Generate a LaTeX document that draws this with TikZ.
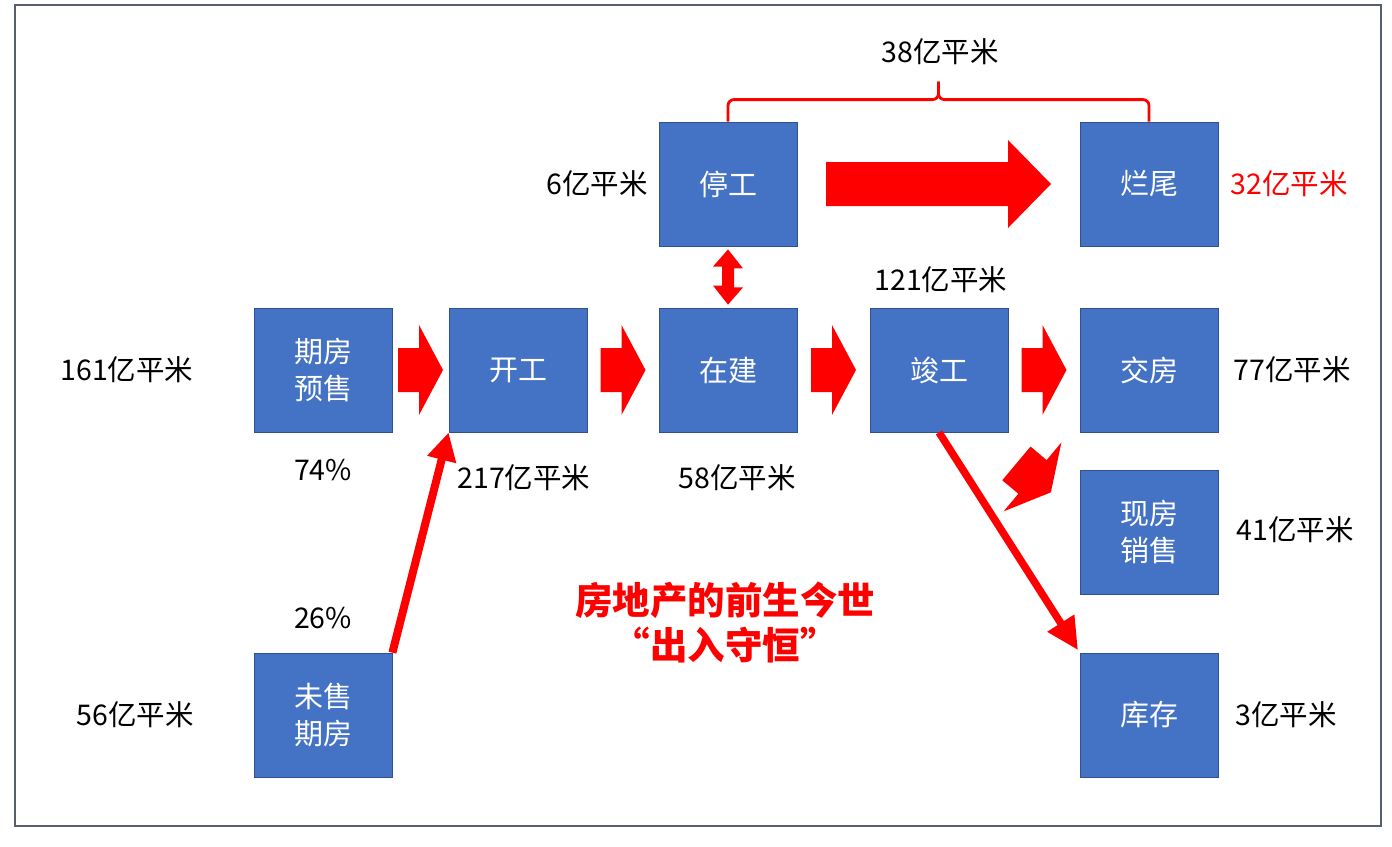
\documentclass[tikz,border=0pt]{standalone}
\usepackage{fontspec}
\setmainfont{Noto Sans CJK SC}
\usetikzlibrary{arrows.meta,calc}
\definecolor{boxfill}{HTML}{4472C4}
\definecolor{boxline}{HTML}{2F528F}
\definecolor{framecol}{HTML}{58606E}
\definecolor{arrred}{HTML}{FF0000}
\tikzset{
  box/.style={draw=boxline, line width=0.8pt, fill=boxfill, minimum width=138pt, minimum height=124pt,
    inner sep=0pt, text=white, align=center, font=\fontsize{29}{37}\selectfont},
  lbl/.style={inner sep=0pt, text=black, font=\fontsize{28.5}{32}\selectfont},
  thinarrow/.style={draw=arrred, line width=7.5pt, -{Triangle[length=32pt,width=30pt]}},
  redfill/.style={fill=arrred},
  bracestyle/.style={draw=arrred, line width=2.8pt, rounded corners=6pt},
}
\begin{document}
\begin{tikzpicture}[x=1pt,y=-1pt]
\useasboundingbox (0,0) rectangle (1392,846);
\draw[framecol, line width=1.6pt] (15,5) rectangle (1381,826);
% boxes
\node[box] (qf) at (323,370) {期房\\预售};
\node[box] (kg) at (518,370) {开工};
\node[box] (zj) at (728,370) {在建};
\node[box] (jg) at (939,370) {竣工};
\node[box] (jf) at (1149,370) {交房};
\node[box] (tg) at (728,184) {停工};
\node[box] (lw) at (1149,184) {烂尾};
\node[box] (xf) at (1149,532) {现房\\销售};
\node[box] (kc) at (1149,715) {库存};
\node[box] (ws) at (323,715) {未售\\期房};
% labels
\node[lbl] (l161) at (127,370) {161亿平米};
\node[lbl] (l74) at (323,470) {74\%};
\node[lbl] (l217) at (524,478) {217亿平米};
\node[lbl] (l58) at (737,478) {58亿平米};
\node[lbl] (l121) at (941,280) {121亿平米};
\node[lbl] (l6) at (597,184) {6亿平米};
\node[lbl, text=arrred] (l32) at (1289,184) {32亿平米};
\node[lbl] (l77) at (1292,370) {77亿平米};
\node[lbl] (l41) at (1295,530) {41亿平米};
\node[lbl] (l3) at (1286,715) {3亿平米};
\node[lbl] (l26) at (323,618) {26\%};
\node[lbl] (l56) at (135,715) {56亿平米};
\node[lbl] (l38) at (940,52) {38亿平米};
\node[inner sep=0pt, text=arrred, align=center, font=\bfseries\fontsize{37.5}{45}\selectfont] (title) at (725,622) {房地产的前生今世\\“出入守恒”};
% row block arrows
\foreach \a/\b in {qf/kg, kg/zj, zj/jg, jg/jf}{
  \fill[redfill] ($(\a.east)!0.5!(\b.west)$) ++(-22.5,-22) -- ++(21,0) -- ++(0,-23) -- ++(24,45)
    -- ++(-24,45) -- ++(0,-23) -- ++(-21,0) -- cycle;
}
% big arrow
\fill[redfill] ($(tg.east)!0.5!(lw.west)$) ++(-112.5,-22) -- ++(182,0) -- ++(0,-22) -- ++(43,44)
  -- ++(-43,44) -- ++(0,-22) -- ++(-182,0) -- cycle;
% double arrow
\fill[redfill] ($(tg.south)+(0,3)$) -- ++(15,19) -- ++(-9,0) -- ++(0,19) -- ++(9,0) -- ($(zj.north)+(0,-3)$)
  -- ++(-15,-19) -- ++(9,0) -- ++(0,-19) -- ++(-9,0) -- cycle;
% small rotated arrow
\coordinate (sp) at ($(jg.south east)+(8,31)$);
\begin{scope}[shift={(sp)}, rotate=-40]
  \fill[redfill] (0,-22) -- ++(21,0) -- ++(0,-23) -- ++(24,45) -- ++(-24,45) -- ++(0,-23) -- ++(-21,0) -- cycle;
\end{scope}
% thin arrows
\draw[thinarrow, shorten >=3pt] (jg.south) -- (kc.north west);
\draw[thinarrow, line width=8pt, -{Triangle[length=28pt,width=28pt]}] (ws.north east) -- (kg.south west);
% brace
\coordinate (bt) at ($(tg.north)!0.5!(lw.north)+(0,-40)$);
\draw[bracestyle] (tg.north) -- ++(0,-22) -| (bt);
\draw[bracestyle] (lw.north) -- ++(0,-22) -| (bt);
\end{tikzpicture}
\end{document}
